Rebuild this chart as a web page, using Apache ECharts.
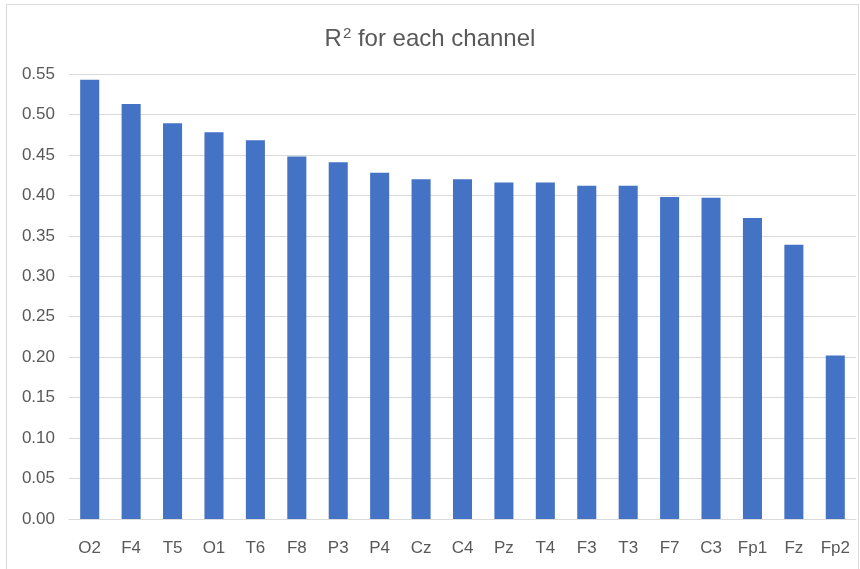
<!DOCTYPE html>
<html>
<head>
<meta charset="utf-8">
<script src="https://cdn.jsdelivr.net/npm/echarts@6/dist/echarts.min.js"></script>
<style>
  html, body { margin: 0; padding: 0; background: #fff; }
  #chart { width: 860px; height: 569px; }
</style>
</head>
<body>
<div id="chart"></div>
<script>
// EEG channels, ordered by R² (descending)
const channels = ['O2', 'F4', 'T5', 'O1', 'T6', 'F8', 'P3', 'P4', 'Cz', 'C4',
                  'Pz', 'T4', 'F3', 'T3', 'F7', 'C3', 'Fp1', 'Fz', 'Fp2'];
const r2Values = [0.543, 0.513, 0.489, 0.478, 0.468, 0.448, 0.441, 0.428, 0.420, 0.420,
                  0.416, 0.416, 0.412, 0.412, 0.398, 0.397, 0.372, 0.339, 0.202];
const yTicks = { min: 0, max: 0.55, step: 0.05 };

const chart = echarts.init(document.getElementById('chart'), null, { renderer: 'canvas' });
const FONT = 'Liberation Sans';

chart.setOption({
  animation: false,
  backgroundColor: '#ffffff',
  textStyle: { fontFamily: FONT },
  title: {
    text: 'R{sup|2} for each channel',
    left: 'center',
    top: 21,
    textStyle: {
      fontFamily: FONT,
      fontSize: 24,
      fontWeight: 'normal',
      color: '#595959',
      rich: {
        sup: { fontSize: 15, color: '#595959', verticalAlign: 'top', padding: [0, 0, 11, 1], fontFamily: FONT }
      }
    }
  },
  graphic: [{
    type: 'rect',
    shape: { x: 6.5, y: 4.5, width: 852, height: 568 },
    style: { fill: 'none', stroke: '#d9d9d9', lineWidth: 1 },
    silent: true
  }],
  grid: { left: 69, right: 4, top: 74, bottom: 50, containLabel: false },
  xAxis: {
    type: 'category',
    data: channels,
    axisLine: { show: true, lineStyle: { color: '#d9d9d9', width: 1 } },
    axisTick: { show: false },
    axisLabel: { color: '#595959', fontSize: 17, fontFamily: FONT, margin: 21 }
  },
  yAxis: {
    type: 'value',
    min: yTicks.min,
    max: yTicks.max,
    interval: yTicks.step,
    axisLine: { show: false },
    axisTick: { show: false },
    splitLine: { lineStyle: { color: '#d9d9d9', width: 1 } },
    axisLabel: {
      color: '#595959', fontSize: 17, fontFamily: FONT, margin: 14,
      formatter: v => v.toFixed(2)
    }
  },
  series: [{
    type: 'bar',
    data: r2Values,
    barWidth: '46%',
    itemStyle: { color: '#4472c4' }
  }]
});
</script>
</body>
</html>
